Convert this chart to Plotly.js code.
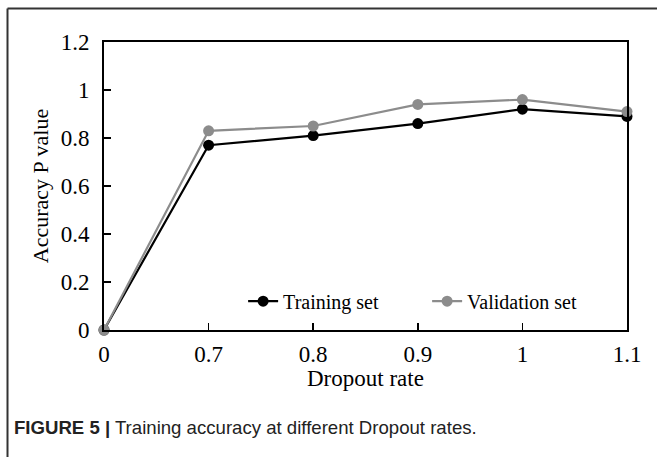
<!DOCTYPE html>
<html><head><meta charset="utf-8">
<script src="https://cdn.plot.ly/plotly-3.0.1.min.js"></script>
<style>html,body{margin:0;padding:0;background:#fff;}#chart{width:657px;height:457px;}</style>
</head><body><div id="chart"></div>
<script>
const categories = ["0", "0.7", "0.8", "0.9", "1", "1.1"];
const trainingSet = [0, 0.77, 0.81, 0.86, 0.92, 0.89];
const validationSet = [0, 0.83, 0.85, 0.94, 0.96, 0.91];
const yTicks = [0, 0.2, 0.4, 0.6, 0.8, 1, 1.2];
const yTickText = ["0", "0.2", "0.4", "0.6", "0.8", "1", "1.2"];
const xTitle = "Dropout rate";
const yTitle = "Accuracy P value";

const serif = "Liberation Serif, Times New Roman, serif";
const traces = [
  {x: categories, y: trainingSet, name: "Training set", type: "scatter", mode: "lines+markers", cliponaxis: false,
   line: {color: "#000000", width: 2.2}, marker: {color: "#000000", size: 11}},
  {x: categories, y: validationSet, name: "Validation set", type: "scatter", mode: "lines+markers", cliponaxis: false,
   line: {color: "#8c8c8c", width: 2.2}, marker: {color: "#8c8c8c", size: 11}}
];
const layout = {
  width: 657, height: 457,
  margin: {l: 104, r: 30, t: 42, b: 127},
  paper_bgcolor: "#ffffff", plot_bgcolor: "#ffffff",
  showlegend: true,
  legend: {orientation: "h", x: 0.266, y: 0.1, xanchor: "left", yanchor: "middle",
           entrywidth: 139, entrywidthmode: "pixels",
           font: {family: serif, size: 20, color: "#000"}, bgcolor: "rgba(0,0,0,0)", tracegroupgap: 0},
  xaxis: {type: "category", range: [0, 5], showgrid: false, zeroline: false,
          showline: true, linecolor: "#000", linewidth: 2, mirror: true,
          ticks: "inside", ticklen: 7, tickwidth: 1.5, tickcolor: "#000",
          tickfont: {family: serif, size: 23, color: "#000"}, ticklabelstandoff: 2},
  yaxis: {range: [0, 1.2], tickvals: yTicks, ticktext: yTickText, showgrid: false, zeroline: false,
          showline: true, linecolor: "#000", linewidth: 2, mirror: true,
          ticks: "inside", ticklen: 7, tickwidth: 1.5, tickcolor: "#000",
          tickfont: {family: serif, size: 23, color: "#000"}, ticklabelstandoff: 8,
          title: {text: yTitle, font: {family: serif, size: 22, color: "#000"}, standoff: 6}},
  shapes: [
    {type: "line", xref: "paper", yref: "paper", x0: -0.1845, x1: 1.3, y0: 1.1163, y1: 1.1163, line: {color: "#333", width: 2}},
    {type: "line", xref: "paper", yref: "paper", x0: -0.1845, x1: -0.1845, y0: 1.1163, y1: -0.5, line: {color: "#333", width: 2}}
  ],
  annotations: [
    {xref: "paper", yref: "paper", x: 0.5, y: -0.168, xanchor: "center", yanchor: "middle", showarrow: false,
     text: xTitle, font: {family: serif, size: 23, color: "#000"}},
    {xref: "paper", yref: "paper", x: -0.176, y: -0.337, xanchor: "left", yanchor: "middle", showarrow: false,
     text: "<b>FIGURE 5 |</b> Training accuracy at different Dropout rates.",
     font: {family: "Liberation Sans, Arial, sans-serif", size: 18.6, color: "#222"}}
  ]
};
Plotly.newPlot("chart", traces, layout, {displayModeBar: false, staticPlot: true});
</script></body></html>
